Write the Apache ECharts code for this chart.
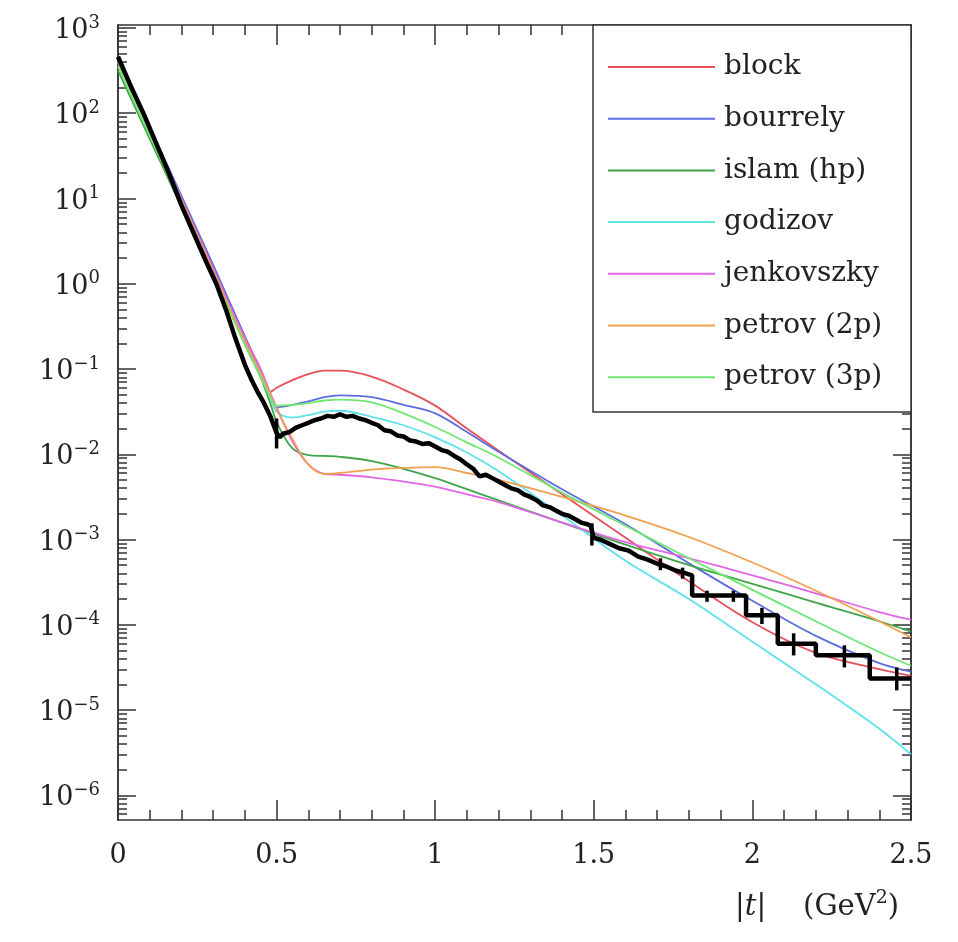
<!DOCTYPE html>
<html>
<head>
<meta charset="utf-8">
<style>
html, body { margin: 0; padding: 0; background: #fff; }
#chart { width: 958px; height: 942px; }
</style>
</head>
<body>
<div id="chart"></div>
<script src="https://cdn.jsdelivr.net/npm/echarts@6/dist/echarts.min.js"></script>
<script>
// model curves, all on the same |t| grid
const modelT = [0, 0.1, 0.2, 0.3, 0.4, 0.45, 0.48, 0.5, 0.55, 0.6, 0.65, 0.7, 0.8, 0.9, 1.0, 1.1, 1.2, 1.4, 1.6, 1.8, 2.0, 2.2, 2.4, 2.5]
const block = [417, 66.1, 10, 1.585, 0.240, 0.0955, 0.0537, 0.0603, 0.0741, 0.0871, 0.0955, 0.0955, 0.0813, 0.0575, 0.0372, 0.0200, 0.0110, 0.00339, 0.00105, 3.24e-4, 1.07e-4, 4.68e-5, 3.02e-5, 2.51e-5]
const bourrely = [417, 69.2, 10.7, 1.66, 0.240, 0.0891, 0.0501, 0.0355, 0.0380, 0.0417, 0.0468, 0.0490, 0.0468, 0.0380, 0.0302, 0.0182, 0.0107, 0.00389, 0.00151, 5.25e-4, 1.91e-4, 7.41e-5, 3.55e-5, 2.82e-5]
const islam = [316, 50.1, 7.94, 1.26, 0.200, 0.0794, 0.0398, 0.0240, 0.0117, 0.00977, 0.00955, 0.00933, 0.00832, 0.00676, 0.00525, 0.00389, 0.00288, 0.00158, 8.71e-4, 5.01e-4, 3.02e-4, 1.82e-4, 1.10e-4, 8.32e-5]
const godizov = [398, 63.1, 9.55, 1.445, 0.209, 0.0832, 0.0468, 0.0316, 0.0269, 0.0288, 0.0316, 0.0324, 0.0275, 0.0219, 0.0158, 0.0105, 0.00631, 0.00191, 5.62e-4, 2.00e-4, 6.31e-5, 2.00e-5, 6.03e-6, 3.02e-6]
const jenkovszky = [417, 66.1, 10, 1.514, 0.229, 0.1, 0.0525, 0.0355, 0.0141, 0.00759, 0.00589, 0.00575, 0.00537, 0.00479, 0.00417, 0.00339, 0.00275, 0.00158, 9.33e-4, 6.03e-4, 3.80e-4, 2.34e-4, 1.41e-4, 1.15e-4]
const petrov2p = [398, 63.1, 9.55, 1.413, 0.209, 0.0891, 0.0501, 0.0339, 0.0151, 0.00759, 0.00589, 0.00603, 0.00661, 0.00692, 0.00708, 0.00603, 0.00501, 0.00316, 0.00191, 0.00107, 5.37e-4, 2.51e-4, 1.10e-4, 7.08e-5]
const petrov3p = [355, 55.0, 8.51, 1.26, 0.191, 0.0794, 0.0468, 0.0372, 0.0380, 0.0398, 0.0427, 0.0437, 0.0407, 0.0302, 0.0209, 0.0138, 0.00912, 0.00355, 0.00145, 6.03e-4, 2.57e-4, 1.10e-4, 4.79e-5, 3.31e-5]

// measured distribution (histogram, wide bins drawn as steps in the tail)
const dataT = [0, 0.04, 0.08, 0.12, 0.16, 0.2, 0.24, 0.28, 0.31, 0.34, 0.37, 0.40, 0.42, 0.44, 0.46, 0.48, 0.50,
  0.51, 0.52, 0.54, 0.56, 0.58, 0.60, 0.62, 0.64, 0.66, 0.68, 0.70, 0.72, 0.74, 0.76, 0.78, 0.80, 0.82, 0.84, 0.86, 0.88,
  0.90, 0.92, 0.94, 0.96, 0.98, 1.00, 1.02, 1.04, 1.06, 1.08, 1.10, 1.12, 1.14, 1.16, 1.18, 1.20, 1.22, 1.24, 1.26,
  1.28, 1.30, 1.32, 1.34, 1.36, 1.38, 1.40, 1.42, 1.44, 1.46, 1.48, 1.49, 1.50, 1.52, 1.55, 1.58, 1.61, 1.64, 1.67,
  1.70, 1.73, 1.76, 1.79, 1.81, 1.81, 1.98, 1.98, 2.08, 2.08, 2.20, 2.20, 2.37, 2.37, 2.50]
const dataVal = [460, 209, 100, 44.7, 20.0, 8.32, 3.80, 1.74, 1.0, 0.50, 0.229, 0.112, 0.076, 0.054, 0.040, 0.028, 0.0178,
  0.0158, 0.0174, 0.0182, 0.0204, 0.0219, 0.0234, 0.0251, 0.0263, 0.0282, 0.0275, 0.0295, 0.0275, 0.0282, 0.0263, 0.0251, 0.0234, 0.0219, 0.0191, 0.0186, 0.0166,
  0.0162, 0.0145, 0.0141, 0.0132, 0.0135, 0.0123, 0.0112, 0.0107, 0.00955, 0.0087, 0.00759, 0.00676, 0.0055, 0.00575, 0.00525, 0.00479, 0.00437, 0.00398, 0.0038,
  0.00339, 0.00316, 0.00288, 0.00251, 0.0024, 0.00219, 0.0020, 0.00191, 0.00174, 0.00158, 0.00151, 0.00145, 0.00105, 0.0010, 8.9e-4, 7.9e-4, 7.4e-4, 6.3e-4, 5.8e-4,
  5.2e-4, 4.8e-4, 4.3e-4, 4.0e-4, 3.8e-4, 2.2e-4, 2.2e-4, 1.29e-4, 1.29e-4, 6.0e-5, 6.0e-5, 4.4e-5, 4.4e-5, 2.34e-5, 2.34e-5]

// error bars
const errT = [0.50, 1.494, 1.71, 1.78, 1.857, 1.94, 2.03, 2.13, 2.29, 2.455]
const errLo = [0.0117, 8.5e-4, 4.37e-4, 3.47e-4, 1.86e-4, 1.86e-4, 1.02e-4, 4.37e-5, 3.16e-5, 1.70e-5]
const errHi = [0.0263, 1.55e-3, 6.03e-4, 4.68e-4, 2.51e-4, 2.51e-4, 1.58e-4, 7.94e-5, 5.75e-5, 3.16e-5]

// axis ticks
const yDecades = [1e-6, 1e-5, 1e-4, 1e-3, 1e-2, 1e-1, 1e0, 1e1, 1e2, 1e3]
const yMin = 5.13e-7
const yMax = 1084

const models = [
  { name: 'block', data: block, color: '#e8505c' },
  { name: 'bourrely', data: bourrely, color: '#5c6de0' },
  { name: 'islam (hp)', data: islam, color: '#3fa64a' },
  { name: 'godizov', data: godizov, color: '#5fe2ea' },
  { name: 'jenkovszky', data: jenkovszky, color: '#e066e6' },
  { name: 'petrov (2p)', data: petrov2p, color: '#f0a050' },
  { name: 'petrov (3p)', data: petrov3p, color: '#72e672' }
]

const serif = 'DejaVu Serif'
const frame = '#333'

const yMinor = []
for (let i = 0; i < yDecades.length; i++) {
  for (let k = 2; k <= 9; k++) yMinor.push(k * yDecades[i] / 10)
}
for (let k = 2; k <= 9; k++) yMinor.push(k * yDecades[yDecades.length - 1])

function yAxis (position, values, len, withLabel) {
  return {
    type: 'log',
    position,
    min: yMin,
    max: yMax,
    axisLine: { show: true, lineStyle: { color: frame, width: 1.5 } },
    splitLine: { show: false },
    axisTick: { show: true, inside: true, length: len, customValues: values, lineStyle: { color: frame, width: 1.5 } },
    axisLabel: withLabel ? {
      show: true,
      customValues: values,
      margin: 18,
      color: '#222',
      fontFamily: serif,
      fontSize: 27,
      formatter: v => {
        const e = Math.round(Math.log10(v))
        return '{b|10}{s|' + (e < 0 ? '\u2212' + (-e) : e) + '}'
      },
      rich: {
        b: { fontFamily: serif, fontSize: 27, color: '#222', padding: [6, 0, 0, 0] },
        s: { fontFamily: serif, fontSize: 18, color: '#222', padding: [0, 0, 10, 0] }
      }
    } : { show: false }
  }
}

function xAxis (position, withLabel) {
  return {
    type: 'value',
    position,
    min: 0,
    max: 2.5,
    interval: 0.5,
    axisLine: { show: true, lineStyle: { color: frame, width: 1.5 } },
    splitLine: { show: false },
    axisTick: { show: true, inside: true, length: 20, lineStyle: { color: frame, width: 1.5 } },
    minorTick: { show: true, splitNumber: 5, length: 10, lineStyle: { color: frame, width: 1.5 } },
    axisLabel: withLabel ? { show: true, margin: 22, color: '#222', fontFamily: serif, fontSize: 27 } : { show: false }
  }
}

const series = models.map(m => ({
  name: m.name,
  type: 'line',
  smooth: 0.35,
  showSymbol: false,
  symbol: 'none',
  lineStyle: { color: m.color, width: 1.8 },
  itemStyle: { color: m.color },
  z: 2,
  data: modelT.map((t, i) => [t, m.data[i]])
}))

series.push({
  name: 'data',
  type: 'line',
  showSymbol: false,
  symbol: 'none',
  lineStyle: { color: '#000', width: 4.5 },
  z: 5,
  data: dataT.map((t, i) => [t, dataVal[i]])
})

series.push({
  name: 'errors',
  type: 'custom',
  z: 6,
  renderItem: (params, api) => {
    const a = api.coord([api.value(0), api.value(1)])
    const b = api.coord([api.value(0), api.value(2)])
    return { type: 'line', shape: { x1: a[0], y1: a[1], x2: b[0], y2: b[1] }, style: { stroke: '#000', lineWidth: 3.5 } }
  },
  data: errT.map((t, i) => [t, errLo[i], errHi[i]])
})

const chart = echarts.init(document.getElementById('chart'))
chart.setOption({
  animation: false,
  backgroundColor: '#fff',
  grid: { left: 118, top: 25, right: 47, bottom: 122 },
  xAxis: [xAxis('bottom', true), xAxis('top', false)],
  yAxis: [
    yAxis('left', yDecades, 18, true),
    yAxis('left', yMinor, 9, false),
    yAxis('right', yDecades, 18, false),
    yAxis('right', yMinor, 9, false)
  ],
  title: {
    text: '{n||}{i|t}{n||    (GeV}{s|2}{n|)}',
    left: 730,
    top: 882,
    textStyle: {
      fontFamily: serif,
      fontSize: 29,
      fontWeight: 'normal',
      color: '#222',
      rich: {
        n: { fontFamily: serif, fontSize: 29, color: '#222', padding: [6, 0, 0, 0] },
        i: { fontFamily: serif, fontSize: 29, fontStyle: 'italic', color: '#222', padding: [6, 0, 0, 0] },
        s: { fontFamily: serif, fontSize: 19, color: '#222', padding: [0, 0, 12, 0] }
      }
    }
  },
  graphic: [{
    type: 'rect',
    z: 3,
    shape: { x: 593, y: 25, width: 318, height: 387 },
    style: { fill: '#fff', stroke: frame, lineWidth: 1.5 }
  }],
  legend: {
    orient: 'vertical',
    left: 603,
    top: 47,
    icon: 'rect',
    itemWidth: 107,
    itemHeight: 2,
    itemGap: 21.7,
    z: 10,
    data: models.map(m => m.name),
    textStyle: { fontFamily: serif, fontSize: 28, color: '#222', lineHeight: 30, padding: [0, 0, 0, 4] }
  },
  series
})
</script>
</body>
</html>
